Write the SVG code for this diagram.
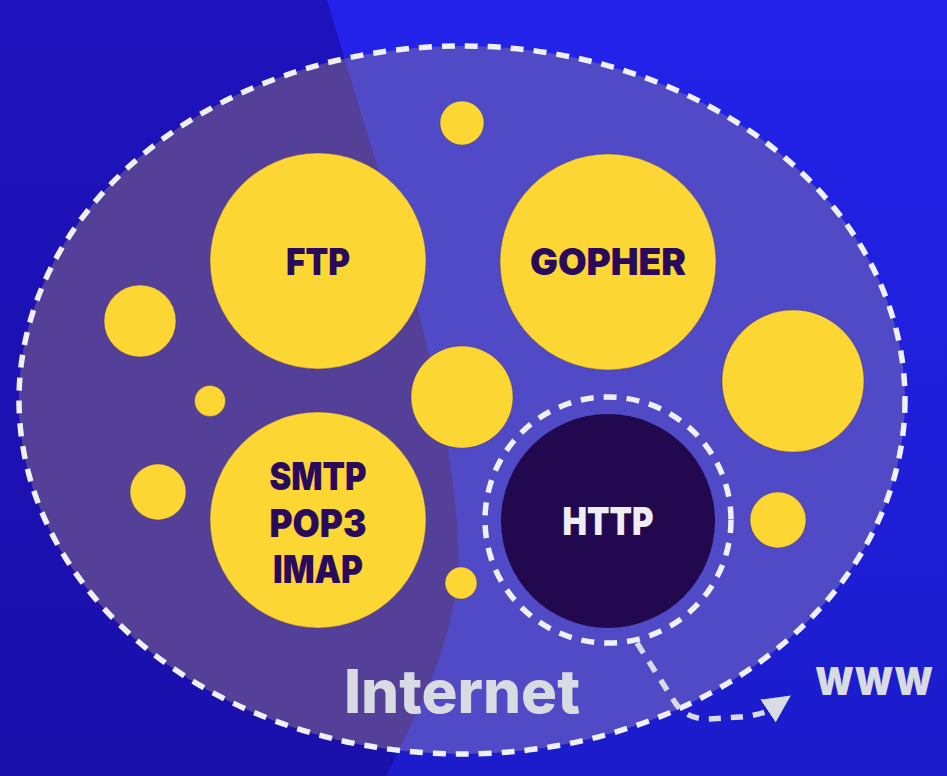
<svg xmlns="http://www.w3.org/2000/svg" width="947" height="776" viewBox="0 0 947 776">
  <defs>
    <linearGradient id="bgR" x1="0" y1="0" x2="0" y2="1">
      <stop offset="0" stop-color="#2222ea"/>
      <stop offset="1" stop-color="#1c1ccc"/>
    </linearGradient>
    <linearGradient id="bgL" x1="0" y1="0" x2="0" y2="1">
      <stop offset="0" stop-color="#1e12bc"/>
      <stop offset="1" stop-color="#1a10ac"/>
    </linearGradient>
    <clipPath id="darkClip">
      <path d="M0,0 L327,0 C380,180 450,380 458,540 C462,620 430,690 386,776 L0,776 Z"/>
    </clipPath>
    <marker id="arrow" viewBox="0 0 10 10" refX="0" refY="5" markerWidth="5" markerHeight="5" orient="-34" markerUnits="strokeWidth">
      <path d="M0,0 L10,5 L0,10 Z" fill="#d9dbe2"/>
    </marker>
    <style>
      .dot { fill: #fcd632; stroke: #4a3270; stroke-opacity: 0.35; stroke-width: 1.2; }
      .lbl { font-family: Inter, "Open Sans", "Liberation Sans", sans-serif; font-weight: 900; fill: #2a0a5c; text-anchor: middle; }
      .dash { fill: none; stroke: #eef0f4; stroke-width: 5.5; stroke-dasharray: 13 10; }
    </style>
  </defs>

  <g id="background">
    <rect width="947" height="776" fill="url(#bgR)"/>
    <path d="M0,0 L327,0 C380,180 450,380 458,540 C462,620 430,690 386,776 L0,776 Z" fill="url(#bgL)"/>
  </g>

  <g id="internet">
    <ellipse cx="462" cy="400" rx="443" ry="354" fill="#504ac6"/>
    <ellipse cx="462" cy="400" rx="443" ry="354" fill="#543f99" clip-path="url(#darkClip)"/>
    <ellipse cx="462" cy="400" rx="443" ry="354" class="dash"/>
    <text x="462" y="713" font-family="Inter, 'Open Sans', 'Liberation Sans', sans-serif" font-weight="800" font-size="60" fill="#d9dbe2" text-anchor="middle">Internet</text>
  </g>

  <g id="small-dots">
    <circle class="dot" cx="462" cy="123" r="22"/>
    <circle class="dot" cx="140" cy="321" r="36"/>
    <circle class="dot" cx="210" cy="401" r="15.5"/>
    <circle class="dot" cx="462" cy="397" r="51"/>
    <circle class="dot" cx="793" cy="381" r="71"/>
    <circle class="dot" cx="158" cy="492" r="28"/>
    <circle class="dot" cx="461" cy="583" r="16"/>
    <circle class="dot" cx="778" cy="520" r="28"/>
  </g>

  <g id="ftp">
    <circle class="dot" cx="318" cy="261" r="108"/>
    <text class="lbl" x="318" y="275" font-size="37" textLength="64" lengthAdjust="spacingAndGlyphs">FTP</text>
  </g>

  <g id="gopher">
    <circle class="dot" cx="608" cy="262" r="108"/>
    <text class="lbl" x="608" y="275" font-size="37" textLength="156" lengthAdjust="spacingAndGlyphs">GOPHER</text>
  </g>

  <g id="mail">
    <circle class="dot" cx="318" cy="520" r="108"/>
    <text class="lbl" x="318" y="490" font-size="38" textLength="97" lengthAdjust="spacingAndGlyphs">SMTP</text>
    <text class="lbl" x="318" y="537" font-size="38" textLength="97" lengthAdjust="spacingAndGlyphs">POP3</text>
    <text class="lbl" x="318" y="583" font-size="38" textLength="90" lengthAdjust="spacingAndGlyphs">IMAP</text>
  </g>

  <g id="http">
    <circle cx="608" cy="520" r="123" class="dash" stroke-dasharray="12 11"/>
    <circle cx="608" cy="521" r="107" fill="#22094f"/>
    <text x="608" y="535" font-family="Inter, 'Open Sans', 'Liberation Sans', sans-serif" font-weight="900" font-size="39" fill="#eeeef2" text-anchor="middle" textLength="91" lengthAdjust="spacingAndGlyphs">HTTP</text>
  </g>

  <g id="www">
    <text x="874" y="695" font-family="Inter, 'Open Sans', 'Liberation Sans', sans-serif" font-weight="900" font-size="38" fill="#d9dbe2" text-anchor="middle" textLength="118" lengthAdjust="spacingAndGlyphs">WWW</text>
  </g>

  <g id="connectors">
    <path d="M637,643 L676,704 Q688,720 710,719 L740,717 C752,716 760,714 768,711" fill="none" stroke="#d9dbe2" stroke-width="5.5" stroke-dasharray="12 10" marker-end="url(#arrow)"/>
  </g>
</svg>
